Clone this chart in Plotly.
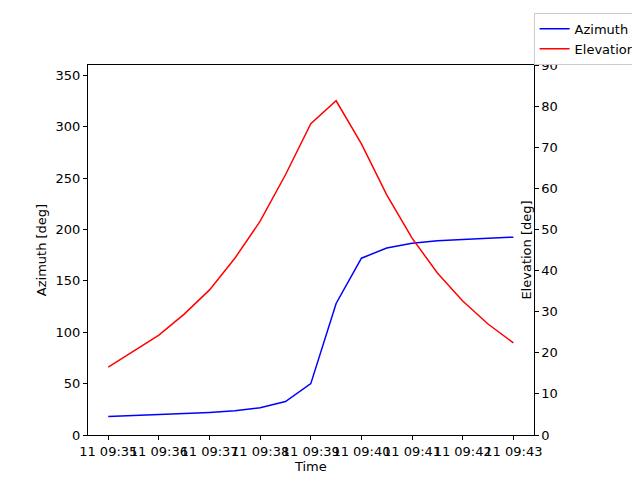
import plotly.graph_objects as go
import pandas as pd

times = pd.date_range("2024-01-11 09:35", "2024-01-11 09:43", freq="30s")
azimuth = [18, 19, 19.5, 20.5, 22, 23.5, 26.5, 32.5, 50, 128, 172, 182, 186.5, 189, 190.5, 191.5, 192.5]
elevation = [16.5, 20.4, 24.3, 29.4, 35.3, 43, 52, 63.3, 75.7, 81.3, 70.8, 58.4, 47.9, 39.4, 32.6, 27, 22.4]
tick_times = pd.date_range("2024-01-11 09:35", "2024-01-11 09:43", freq="1min")

fig = go.Figure()
fig.add_trace(go.Scatter(x=times, y=azimuth, mode="lines", name="Azimuth",
                         line=dict(color="blue", width=1.5)))
fig.add_trace(go.Scatter(x=times, y=elevation, mode="lines", name="Elevation",
                         line=dict(color="red", width=1.5), yaxis="y2"))

axis_style = dict(showline=True, linecolor="black", linewidth=1, mirror=True,
                  ticks="outside", ticklen=4, tickcolor="black", showgrid=False,
                  zeroline=False, automargin=False,
                  tickfont=dict(size=13, color="black"))

fig.update_layout(
    width=640, height=480,
    margin=dict(l=80, r=64, t=57, b=53),
    plot_bgcolor="white", paper_bgcolor="white",
    font=dict(family="DejaVu Sans", size=13, color="black"),
    xaxis=dict(axis_style, title=dict(text="Time", standoff=4, font=dict(size=13)), type="date",
               tickvals=tick_times, tickformat="%d %H:%M", tickangle=0,
               range=[pd.Timestamp("2024-01-11 09:34:36"), pd.Timestamp("2024-01-11 09:43:24")]),
    yaxis=dict(axis_style, title=dict(text="Azimuth [deg]", standoff=6, font=dict(size=13)),
               range=[0, 360], dtick=50),
    yaxis2=dict(axis_style, title=dict(text="Elevation [deg]", standoff=6, font=dict(size=13)),
                overlaying="y", side="right", range=[0, 90], dtick=10),
    legend=dict(x=0.995, y=0.99, xref="paper", yref="container",
                xanchor="right", yanchor="top", bordercolor="#cccccc",
                borderwidth=1, bgcolor="white", font=dict(size=13),
                tracegroupgap=0),
)
fig.update_layout(legend=dict(xref="container", x=0.99))

fig.write_html("out.html")
